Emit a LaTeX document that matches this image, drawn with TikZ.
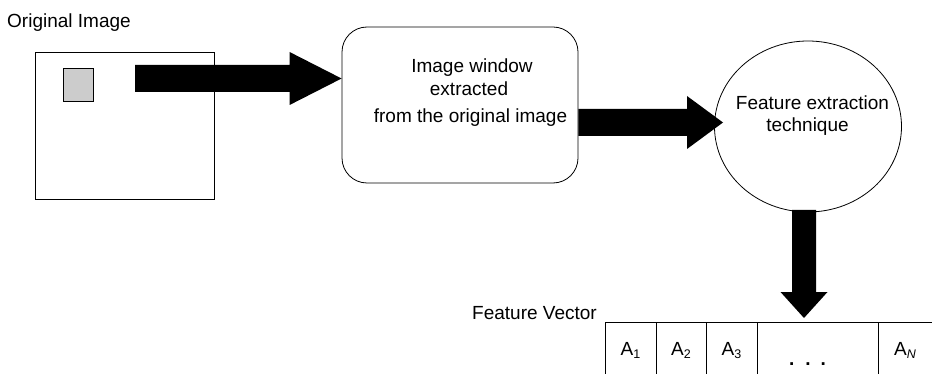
\documentclass[tikz,border=0pt]{standalone}
\usepackage{fontspec}
\setmainfont{Liberation Sans}
\usetikzlibrary{calc,shapes.geometric}
\newcommand{\vsub}[1]{\raisebox{-3.5pt}{\fontsize{12.5}{12.5}\selectfont #1}}
\begin{document}
\begin{tikzpicture}[x=1pt,y=-1pt,
  txt/.style={inner sep=0pt,font=\fontsize{19}{22}\selectfont},
  line/.style={draw=black,line width=0.8pt},
  blockarrow/.style={fill=black,draw=none}]
\useasboundingbox (0,0) rectangle (932,374);
\fill[white] (0,0) rectangle (932,374);

% Original image
\node[txt,anchor=base west] (origlbl) at (7,28) {Original Image};
\node[line,rectangle,minimum width=179pt,minimum height=147pt,inner sep=0pt] (orig) at (124.5,125.5) {};
\node[line,rectangle,fill={rgb,255:red,204;green,204;blue,204},minimum width=30pt,minimum height=33pt,inner sep=0pt] (win) at (78,84.5) {};

% Rounded box
\node[line,rectangle,rounded corners=25pt,minimum width=236pt,minimum height=156pt,inner sep=0pt] (wbox) at (460,105) {};
\node[txt,anchor=base] (w1) at (472,73) {Image window};
\node[txt,anchor=base] (w2) at (469,96) {extracted};
\node[txt,anchor=base] (w3) at (470.5,123) {from the original image};

% Ellipse
\node[line,ellipse,minimum width=187pt,minimum height=171pt,inner sep=0pt] (fe) at (808,126.5) {};
\node[txt,anchor=base] (f1) at (812.5,110) {Feature extraction};
\node[txt,anchor=base] (f2) at (807.5,132) {technique};

% Feature vector
\node[txt,anchor=base west] (fvlbl) at (472,319) {Feature Vector};
\coordinate (v0) at (605,322);
\coordinate (v1) at (656,322);
\coordinate (v2) at (706,322);
\coordinate (v3) at (757,322);
\coordinate (v4) at (878,322);
\coordinate (v5) at (932,322);
\draw[line] (v0) -- (v5);
\foreach \c in {v0,v1,v2,v3,v4} \draw[line] (\c) -- ($(\c)+(0,52)$);
\node[txt,anchor=base] (a1) at (630.5,355) {A\vsub{1}};
\node[txt,anchor=base] (a2) at (681,355) {A\vsub{2}};
\node[txt,anchor=base] (a3) at (731.5,355) {A\vsub{3}};
\node[txt,anchor=base,font=\bfseries\fontsize{19}{22}\selectfont] (dots) at (807.5,365) {.\hspace{11pt}.\hspace{10pt}.};
\node[txt,anchor=base] (an) at (905,355) {A\vsub{\itshape N}};

% Block arrows
\coordinate (s1) at (135,78.5);
\coordinate (e1) at (wbox.west |- s1);
\fill[blockarrow] ($(s1)+(0,-13.5)$) -- ($(e1)+(-52,-13.5)$) -- ($(e1)+(-52,-26.5)$) -- (e1)
  -- ($(e1)+(-52,26.5)$) -- ($(e1)+(-52,13.5)$) -- ($(s1)+(0,13.5)$) -- cycle;

\coordinate (s2) at (wbox.east |- 0,122.5);
\coordinate (e2) at (723,122.5);
\fill[blockarrow] ($(s2)+(0,-13.5)$) -- ($(e2)+(-36,-13.5)$) -- ($(e2)+(-36,-26.5)$) -- (e2)
  -- ($(e2)+(-36,26.5)$) -- ($(e2)+(-36,13.5)$) -- ($(s2)+(0,13.5)$) -- cycle;

\coordinate (s3) at (804,210);
\coordinate (e3) at (804,318);
\fill[blockarrow] ($(s3)+(-12,0)$) -- ($(e3)+(-12,-26)$) -- ($(e3)+(-23.5,-26)$) -- (e3)
  -- ($(e3)+(23.5,-26)$) -- ($(e3)+(12,-26)$) -- ($(s3)+(12,0)$) -- cycle;
\end{tikzpicture}
\end{document}
